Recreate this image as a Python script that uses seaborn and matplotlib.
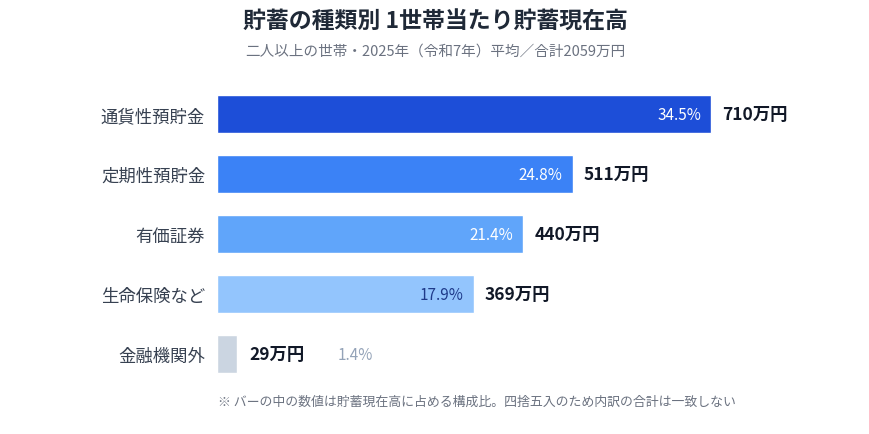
import matplotlib
matplotlib.use("Agg")
import matplotlib.pyplot as plt
import pandas as pd
import seaborn as sns

# data
categories = ["通貨性預貯金", "定期性預貯金", "有価証券", "生命保険など", "金融機関外"]
amounts = [710, 511, 440, 369, 29]  # 万円
shares = [34.5, 24.8, 21.4, 17.9, 1.4]  # %
bar_colors = ["#1d4ed8", "#3b82f6", "#60a5fa", "#93c5fd", "#cbd5e1"]
share_colors = ["#ffffff", "#ffffff", "#ffffff", "#1e3a8a", "#94a3b8"]

TITLE = "貯蓄の種類別 1世帯当たり貯蓄現在高"
SUBTITLE = "二人以上の世帯・2025年（令和7年）平均／合計2059万円"
NOTE = "※ バーの中の数値は貯蓄現在高に占める構成比。四捨五入のため内訳の合計は一致しない"

sns.set_theme(style="white")
plt.rcParams["font.family"] = ["Noto Sans CJK JP", "DejaVu Sans"]

df = pd.DataFrame({"cat": categories, "amount": amounts, "share": shares})

fig = plt.figure(figsize=(8.7, 4.35), dpi=100)
ax = fig.add_axes([217 / 870, 1 - 385 / 435, 653 / 870, 300 / 435])

sns.barplot(
    data=df,
    x="amount",
    y="cat",
    hue="cat",
    palette=bar_colors,
    orient="h",
    width=38 / 60,
    legend=False,
    saturation=1,
    ax=ax,
)

ax.set_xlim(0, 653 / 0.696)
ax.set_ylim(4.5, -0.5)
ax.set_xlabel("")
ax.set_ylabel("")
ax.set_xticks([])
sns.despine(ax=ax, left=True, bottom=True)
ax.tick_params(axis="y", length=0, pad=8.5, labelsize=12.5, labelcolor="#374151")

px = 1 / 0.696  # one pixel in data units
for i, (amt, sh) in enumerate(zip(amounts, shares)):
    if amt > 100:
        ax.text(amt - 10 * px, i, f"{sh}%", ha="right", va="center",
                fontsize=11, color=share_colors[i])
        ax.text(amt + 11 * px, i, f"{amt}万円", ha="left", va="center",
                fontsize=12.5, fontweight="bold", color="#111827")
    else:
        ax.text(amt + 12 * px, i, f"{amt}万円", ha="left", va="center",
                fontsize=12.5, fontweight="bold", color="#111827")
        ax.text(amt + 100 * px, i, f"{sh}%", ha="left", va="center",
                fontsize=11, color=share_colors[i])

fig.text(0.5, 1 - 22 / 435, TITLE, ha="center", va="center",
         fontsize=16.5, fontweight="bold", color="#1f2937")
fig.text(0.5, 1 - 52 / 435, SUBTITLE, ha="center", va="center",
         fontsize=10.5, color="#6b7280")
fig.text(218 / 870, 1 - 402 / 435, NOTE, ha="left", va="center",
         fontsize=9.3, color="#6b7280")

fig.savefig("out.png", dpi=100)
